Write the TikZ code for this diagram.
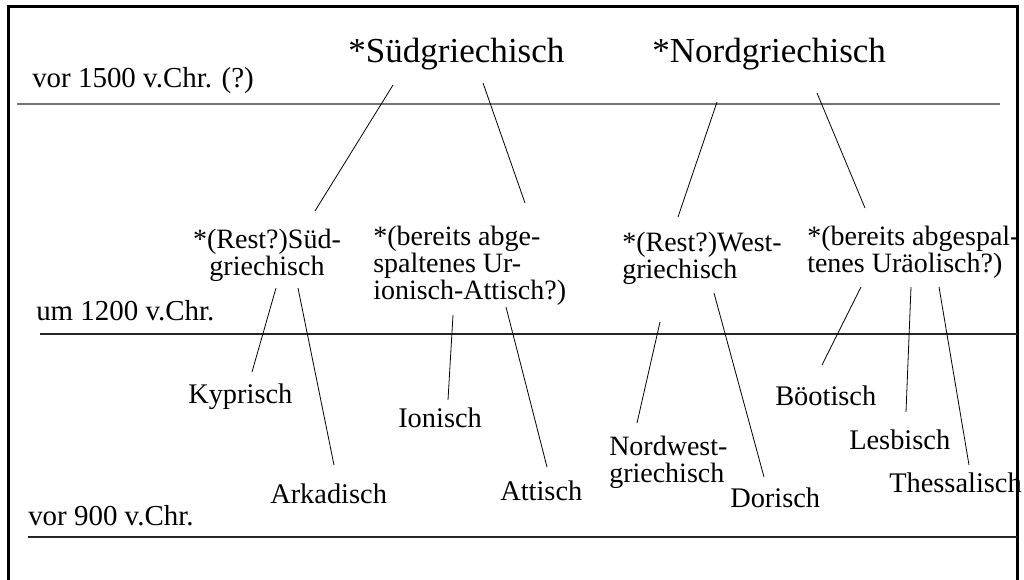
\documentclass[tikz,border=0pt]{standalone}
\usepackage{fontspec}
\setmainfont{Liberation Serif}
\begin{document}
\begin{tikzpicture}[x=0.75pt,y=-0.75pt,
  title/.style={inner sep=0pt,anchor=base west,font=\fontsize{26.3}{30}\selectfont},
  period/.style={inner sep=0pt,anchor=base west,font=\fontsize{21.7}{24}\selectfont},
  leaf/.style={inner sep=0pt,anchor=base west,font=\fontsize{21.3}{24}\selectfont},
  mid/.style={inner sep=0pt,font=\fontsize{21}{20.25}\selectfont},
  era/.style={line width=1.2pt},
  edge/.style={line width=0.6pt}]
\useasboundingbox (0,0) rectangle (1024,579);
\draw[line width=2.25pt] (8,600) -- (8,6) -- (1017,6) -- (1017,600);
% period lines
\coordinate (l1a) at (17,104); \coordinate (l1b) at (1000,104);
\coordinate (l2a) at (40,334); \coordinate (l2b) at (1017,334);
\coordinate (l3a) at (28,537); \coordinate (l3b) at (1017,537);
\draw[era,draw=black!55] (l1a) -- (l1b);
\draw[era,draw=black!85] (l2a) -- (l2b);
\draw[era,draw=black!85] (l3a) -- (l3b);
% period labels
\node[period] (p1) at (32,87) {vor 1500 v.Chr. (?)};
\node[period] (p2) at (36,320) {um 1200 v.Chr.};
\node[period] (p3) at (28,525) {vor 900 v.Chr.};
% top level
\node[title] (sud) at (348,62) {*Südgriechisch};
\node[title] (nord) at (652,62) {*Nordgriechisch};
% middle level
\node[mid,anchor=north,align=center] (restsud) at (267,229) {*(Rest?)Süd-\\griechisch};
\node[mid,anchor=north west,align=left] (ionatt) at (373,226) {*(bereits abge-\\spaltenes Ur-\\ionisch-Attisch?)};
\node[mid,anchor=north west,align=left] (restwest) at (622,232) {*(Rest?)West-\\griechisch};
\node[mid,anchor=north west,align=left] (uraeol) at (807,226) {*(bereits abgespal-\\tenes Uräolisch?)};
% leaves
\node[leaf] (kyp) at (188,403) {Kyprisch};
\node[leaf] (ark) at (270,503) {Arkadisch};
\node[leaf] (ion) at (398,427) {Ionisch};
\node[leaf] (att) at (500,500) {Attisch};
\node[mid,anchor=north west,align=left] (nwg) at (609,436) {Nordwest-\\griechisch};
\node[leaf] (dor) at (730,507) {Dorisch};
\node[leaf] (boe) at (775,405) {Böotisch};
\node[leaf] (les) at (849,449) {Lesbisch};
\node[leaf] (the) at (889,492) {Thessalisch};
% connectors
\draw[edge] ([shift={(45,23)}]sud.base west) -- ([shift={(48,-18)}]restsud.north);
\draw[edge] ([shift={(135,21)}]sud.base west) -- ([shift={(152,-23)}]ionatt.north west);
\draw[edge] ([shift={(65,40)}]nord.base west) -- ([shift={(56,-15)}]restwest.north west);
\draw[edge] ([shift={(165,31)}]nord.base west) -- ([shift={(58,-18)}]uraeol.north west);
\draw[edge] ([shift={(9,59)}]restsud.north) -- ([shift={(64,-31)}]kyp.base west);
\draw[edge] ([shift={(31,59)}]restsud.north) -- ([shift={(64,-38)}]ark.base west);
\draw[edge] ([shift={(80,89)}]ionatt.north west) -- ([shift={(50,-27)}]ion.base west);
\draw[edge] ([shift={(133,81)}]ionatt.north west) -- ([shift={(47,-33)}]att.base west);
\draw[edge] ([shift={(38,90)}]restwest.north west) -- ([shift={(28,-13)}]nwg.north west);
\draw[edge] ([shift={(92,61)}]restwest.north west) -- ([shift={(34,-30)}]dor.base west);
\draw[edge] ([shift={(54,61)}]uraeol.north west) -- ([shift={(47,-40)}]boe.base west);
\draw[edge] ([shift={(104,61)}]uraeol.north west) -- ([shift={(57,-37)}]les.base west);
\draw[edge] ([shift={(132,61)}]uraeol.north west) -- ([shift={(80,-27)}]the.base west);
\end{tikzpicture}
\end{document}
